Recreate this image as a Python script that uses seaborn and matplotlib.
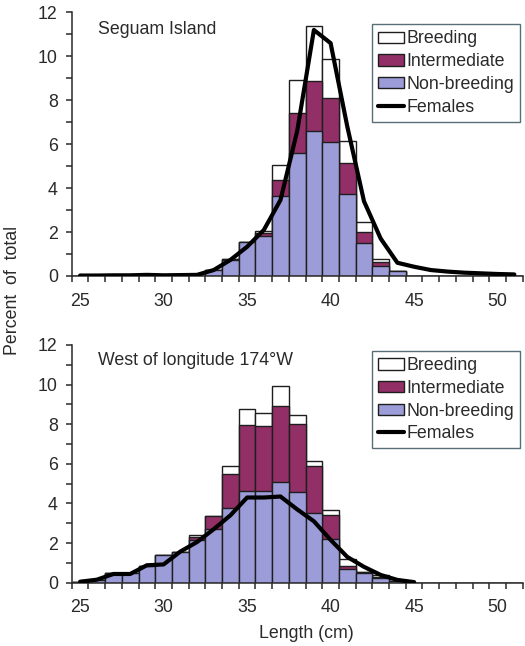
import numpy as np
import pandas as pd
import matplotlib
matplotlib.use("Agg")
import matplotlib.pyplot as plt
from matplotlib.patches import Patch
from matplotlib.lines import Line2D
import seaborn as sns

# Length classes (cm), one bar per class
lengths = list(range(25, 52))

# Seguam Island: stacked segments (percent of total)
seg_nonbreed = [0, 0, 0, 0, 0, 0, 0, 0, 0.27, 0.72, 1.56, 1.82, 3.66, 5.58, 6.61, 6.11, 3.72, 1.49, 0.46, 0.22,
                0, 0, 0, 0, 0, 0, 0]
seg_interm = [0, 0, 0, 0, 0, 0, 0, 0, 0, 0.05, 0, 0.12, 0.71, 1.82, 2.28, 2.01, 1.44, 0.53, 0.19, 0.02,
              0, 0, 0, 0, 0, 0, 0]
seg_breed = [0, 0, 0, 0, 0, 0, 0, 0, 0, 0, 0, 0.11, 0.68, 1.52, 2.5, 1.74, 0.98, 0.45, 0.14, 0,
             0, 0, 0, 0, 0, 0, 0]
seg_females = [0.02, 0.02, 0.03, 0.03, 0.05, 0.03, 0.04, 0.05, 0.27, 0.73, 1.33, 2.09, 3.46, 6.6, 11.2, 10.6,
               6.8, 3.4, 1.7, 0.6, 0.42, 0.27, 0.2, 0.15, 0.12, 0.09, 0.07]

# West of longitude 174W
west_nonbreed = [0.05, 0.14, 0.47, 0.47, 0.86, 1.4, 1.57, 2.16, 2.69, 3.75, 4.65, 4.65, 5.07, 4.6, 3.54, 2.19,
                 0.69, 0.5, 0.22, 0.1, 0, 0, 0, 0, 0, 0, 0]
west_interm = [0, 0, 0, 0, 0, 0, 0, 0.17, 0.68, 1.72, 3.31, 3.26, 3.85, 3.4, 2.35, 1.23, 0.15, 0.03, 0.08, 0,
               0, 0, 0, 0, 0, 0, 0]
west_breed = [0, 0, 0, 0, 0, 0, 0, 0.08, 0, 0.43, 0.79, 0.64, 1.03, 0.47, 0.25, 0.25, 0.34, 0.03, 0.09, 0,
              0, 0, 0, 0, 0, 0, 0]
west_females = [0.05, 0.15, 0.44, 0.44, 0.88, 0.92, 1.57, 2.05, 2.7, 3.4, 4.3, 4.3, 4.35, 3.7, 3.1, 2.16,
                1.3, 0.8, 0.39, 0.14, 0.03, np.nan, np.nan, np.nan, np.nan, np.nan, np.nan]

panels = [
    ("Seguam Island", seg_nonbreed, seg_interm, seg_breed, seg_females),
    ("West of longitude 174°W", west_nonbreed, west_interm, west_breed, west_females),
]

c_nonbreed = "#9c9cd8"
c_interm = "#922f67"
c_edge = "#1e1e1e"
c_text = "#2a2a2a"
fs = 12.8

sns.set_theme(style="ticks")
plt.rcParams["font.family"] = ["Liberation Sans", "DejaVu Sans"]
plt.rcParams["font.size"] = fs

fig = plt.figure(figsize=(5.25, 6.46), dpi=100)
ax_top = fig.add_axes([0.1366, 0.5728, 0.859, 0.408])
ax_bot = fig.add_axes([0.1366, 0.098, 0.859, 0.368])

for ax, (title, nb, im, br, fem) in zip([ax_top, ax_bot], panels):
    df = pd.DataFrame({"length": lengths, "nonbreed": nb, "interm": im, "breed": br, "females": fem})
    df["lvl2"] = df["nonbreed"] + df["interm"]
    df["total"] = df["lvl2"] + df["breed"]
    # layered full-height bars give the stacked look
    for col, color in [("total", "white"), ("lvl2", c_interm), ("nonbreed", c_nonbreed)]:
        sns.barplot(data=df, x="length", y=col, order=lengths, color=color, width=1.0,
                    edgecolor=c_edge, linewidth=1.0, saturation=1, ax=ax, zorder=2)
    sns.lineplot(x=np.arange(len(lengths)), y=df["females"].values, color="black", lw=3.0,
                 ax=ax, zorder=4)

    ax.set_xlim(-0.5, len(lengths) - 0.5)
    ax.set_ylim(0, 12)
    ax.set_xticks([0, 5, 10, 15, 20, 25])
    ax.set_xticklabels(["25", "30", "35", "40", "45", "50"])
    ax.set_xticks(np.arange(-0.5, len(lengths)), minor=True)
    ax.set_yticks(range(0, 13, 2))
    ax.set_yticks(range(1, 13, 2), minor=True)
    ax.tick_params(axis="x", which="major", length=0, pad=12, labelsize=fs, colors=c_text)
    ax.tick_params(axis="x", which="minor", length=4, width=1.1, color=c_text, direction="out")
    ax.tick_params(axis="y", which="both", length=4, width=1.1, color=c_text, pad=6,
                   labelsize=fs, labelcolor=c_text, direction="out")
    ax.set_xlabel("")
    ax.set_ylabel("")
    sns.despine(ax=ax)
    for s in ["left", "bottom"]:
        ax.spines[s].set_linewidth(1.1)
        ax.spines[s].set_color(c_text)

    ax.text(0.058, 0.935, title, transform=ax.transAxes, fontsize=fs, color=c_text, va="center", ha="left")

    handles = [
        Patch(facecolor="white", edgecolor=c_edge, linewidth=1.0, label="Breeding"),
        Patch(facecolor=c_interm, edgecolor=c_edge, linewidth=1.0, label="Intermediate"),
        Patch(facecolor=c_nonbreed, edgecolor=c_edge, linewidth=1.0, label="Non-breeding"),
        Line2D([], [], color="black", lw=3.0, label="Females"),
    ]
    leg = ax.legend(handles=handles, loc="upper right", bbox_to_anchor=(0.995, 0.955 if ax is ax_top else 0.975),
                    borderaxespad=0, frameon=True, fancybox=False, fontsize=fs, handlelength=1.45,
                    handleheight=0.6, handletextpad=0.15, labelspacing=0.32, borderpad=0.35,
                    labelcolor=c_text)
    leg.get_frame().set_edgecolor("#2f4b55")
    leg.get_frame().set_linewidth(1.0)

fig.text(0.023, 0.55, "Percent  of  total", rotation=90, ha="center", va="center", fontsize=fs, color=c_text)
fig.text(0.583, 0.02, "Length (cm)", ha="center", va="center", fontsize=fs, color=c_text)

fig.savefig("out.png", dpi=100)
